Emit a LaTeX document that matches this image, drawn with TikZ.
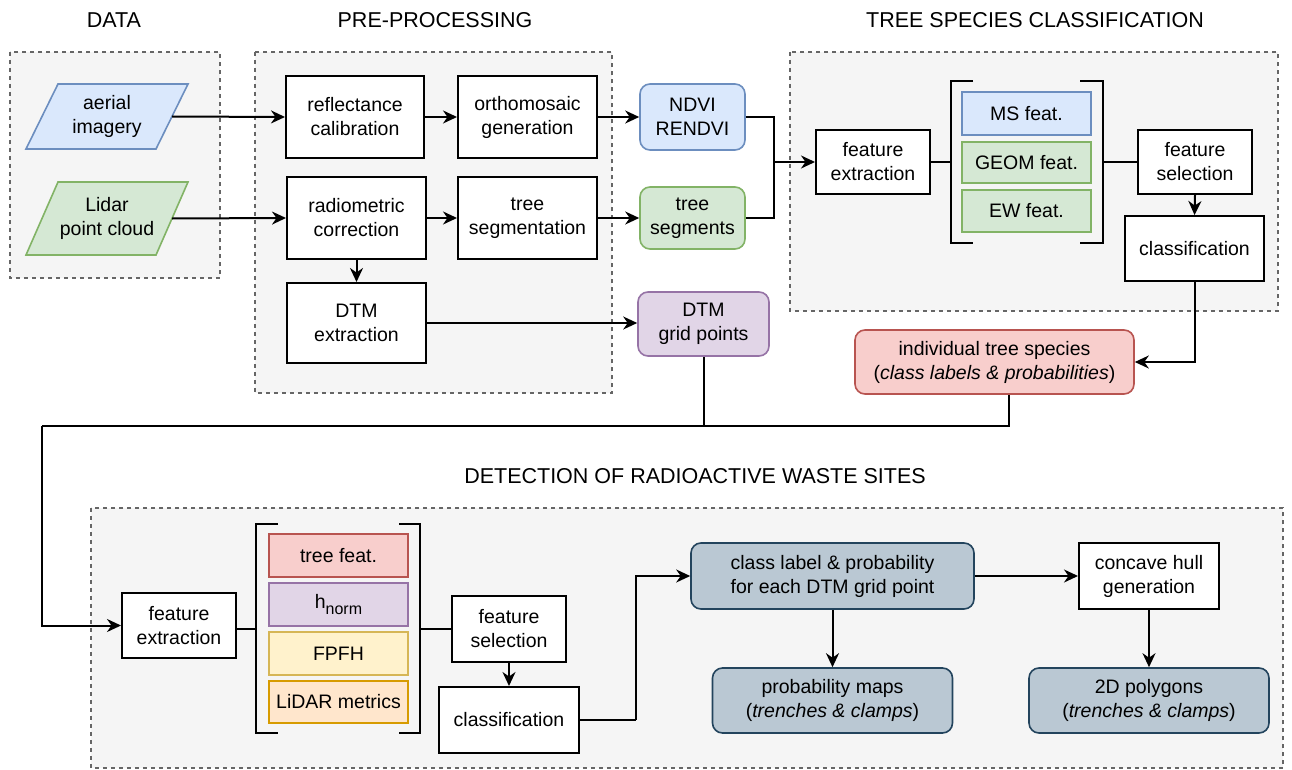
\documentclass[tikz,border=0pt]{standalone}
\usepackage{fontspec}
\setmainfont{Liberation Sans}
\usetikzlibrary{arrows.meta,calc}
\definecolor{grpfill}{HTML}{F5F5F5}
\definecolor{grpline}{HTML}{666666}
\definecolor{bluefill}{HTML}{DAE8FC}
\definecolor{blueline}{HTML}{6C8EBF}
\definecolor{greenfill}{HTML}{D5E8D4}
\definecolor{greenline}{HTML}{82B366}
\definecolor{purplefill}{HTML}{E1D5E7}
\definecolor{purpleline}{HTML}{9673A6}
\definecolor{redfill}{HTML}{F8CECC}
\definecolor{redline}{HTML}{B85450}
\definecolor{yellowfill}{HTML}{FFF2CC}
\definecolor{yellowline}{HTML}{D6B656}
\definecolor{orangefill}{HTML}{FFE6CC}
\definecolor{orangeline}{HTML}{D79B00}
\definecolor{greyfill}{HTML}{BAC8D3}
\definecolor{greyline}{HTML}{23445D}
\newcommand{\bodyfnt}{\fontsize{19.5}{24}\selectfont}
\newcommand{\titlefnt}{\fontsize{21.5}{25}\selectfont}
\newcommand{\subnorm}{\raisebox{-0.28em}{\fontsize{16}{16}\selectfont norm}}
\begin{document}
\begin{tikzpicture}[x=1pt,y=-1pt,
  grp/.style={draw=grpline, fill=grpfill, dash pattern=on 4pt off 4pt, line width=1.4pt},
  sz/.style 2 args={minimum width=#1, minimum height=#2},
  base/.style={align=center, inner sep=0pt, font=\bodyfnt},
  proc/.style={base, draw=black, fill=white, line width=2pt},
  rbox/.style={base, rounded corners=10pt, line width=1.6pt},
  feat/.style={base, line width=1.8pt},
  conn/.style={line width=2pt, draw=black},
  arr/.style={conn, -{Stealth[length=14pt,width=13pt,inset=4.5pt]}},
  ttl/.style={font=\titlefnt, inner sep=0pt},
  brk/.style={line width=2pt, draw=black}
]
\useasboundingbox (0,0) rectangle (1292,770);
\fill[white] (0,0) rectangle (1292,770);

% group boxes
\draw[grp] (10,52) rectangle (220,278);
\draw[grp] (255,52) rectangle (612,393);
\draw[grp] (790,52) rectangle (1278,311);
\draw[grp] (91,508) rectangle (1283,768);

% titles
\node[ttl] (tdata) at (114,20) {DATA};
\node[ttl] (tpre) at (435,20) {PRE-PROCESSING};
\node[ttl] (ttsc) at (1035,20) {TREE SPECIES CLASSIFICATION};
\node[ttl] (tdet) at (695,476) {DETECTION OF RADIOACTIVE WASTE SITES};

% data
\draw[fill=bluefill, draw=blueline, line width=1.6pt] (58,84) -- (188,84) -- (156,149) -- (26,149) -- cycle;
\node[base, sz={130}{60}] (aerial) at (107,116.5) {aerial\\imagery};
\draw[fill=greenfill, draw=greenline, line width=1.6pt] (58,182) -- (188,182) -- (156,255) -- (26,255) -- cycle;
\node[base, sz={130}{60}] (lidar) at (107,218.5) {Lidar\\point cloud};

% pre-processing
\node[proc, sz={138}{82}] (refl) at (355,117) {reflectance\\calibration};
\node[proc, sz={139}{82}] (ortho) at (527.5,117) {orthomosaic\\generation};
\node[proc, sz={139}{82}] (radio) at (356.5,218) {radiometric\\correction};
\node[proc, sz={139}{82}] (seg) at (527.5,218) {tree\\segmentation};
\node[proc, sz={139}{80}] (dtm) at (356.5,323) {DTM\\extraction};

\node[rbox, draw=blueline, fill=bluefill, sz={105}{66}] (ndvi) at (692.5,117) {NDVI\\RENDVI};
\node[rbox, draw=greenline, fill=greenfill, sz={105}{62}] (tseg) at (692.5,218) {tree\\segments};
\node[rbox, draw=purpleline, fill=purplefill, sz={131}{64}] (grid) at (703.5,324) {DTM\\grid points};

% tree species classification
\node[proc, sz={114}{64}] (fe1) at (873,162) {feature\\extraction};
\node[feat, draw=blueline, fill=bluefill, sz={129}{43}] (ms) at (1026.5,113.5) {MS feat.};
\node[feat, draw=greenline, fill=greenfill, sz={129}{41}] (geom) at (1026.5,162.5) {GEOM feat.};
\node[feat, draw=greenline, fill=greenfill, sz={129}{42}] (ew) at (1026.5,211) {EW feat.};
\coordinate (b1l) at (951,162);
\coordinate (b1r) at (1103,162);
\draw[brk] (973,81) -- (951,81) -- (951,243) -- (973,243);
\draw[brk] (1080,81) -- (1103,81) -- (1103,243) -- (1080,243);
\node[proc, sz={114}{64}] (fs1) at (1195,162) {feature\\selection};
\node[proc, sz={139}{65}] (cls1) at (1194.5,248.5) {classification};
\node[rbox, draw=redline, fill=redfill, sz={279}{64}] (its) at (994.5,362) {individual tree species\\(\textit{class labels \& probabilities})};

% detection
\node[proc, sz={114}{65}] (fe2) at (179,625.5) {feature\\extraction};
\coordinate (b2l) at (256,629);
\coordinate (b2r) at (420,629);
\draw[brk] (278,524) -- (256,524) -- (256,733) -- (278,733);
\draw[brk] (399,524) -- (420,524) -- (420,733) -- (399,733);
\node[feat, draw=redline, fill=redfill, sz={139}{43}] (tf) at (338.5,555.5) {tree feat.};
\node[feat, draw=purpleline, fill=purplefill, sz={139}{43}] (hn) at (338.5,604.5) {h\subnorm};
\node[feat, draw=yellowline, fill=yellowfill, sz={139}{43}] (fpfh) at (338.5,653.5) {FPFH};
\node[feat, draw=orangeline, fill=orangefill, sz={139}{42}] (lm) at (338.5,702) {LiDAR metrics};
\node[proc, sz={114}{66}] (fs2) at (509,629) {feature\\selection};
\node[proc, sz={140}{66}] (cls2) at (509,720) {classification};
\node[rbox, draw=greyline, fill=greyfill, sz={283}{66}] (cl) at (832.5,576) {class label \& probability\\for each DTM grid point};
\node[proc, sz={140}{66}] (hull) at (1149,576) {concave hull\\generation};
\node[rbox, draw=greyline, fill=greyfill, sz={240}{65}] (pmap) at (832.5,700.5) {probability maps\\(\textit{trenches \& clamps})};
\node[rbox, draw=greyline, fill=greyfill, sz={240}{65}] (poly) at (1149,700.5) {2D polygons\\(\textit{trenches \& clamps})};

% connectors: pre-processing
\draw[arr] (aerial.east) -- (refl.west);
\draw[arr] (lidar.east) -- (radio.west);
\draw[arr] (refl.east) -- (ortho.west);
\draw[arr] (radio.east) -- (seg.west);
\draw[arr] (radio.south) -- (dtm.north);
\draw[arr] (ortho.east) -- (ndvi.west);
\draw[arr] (seg.east) -- (tseg.west);
\draw[arr] (dtm.east) -- (grid.west |- dtm.east);

% junction to feature extraction
\coordinate (jx) at (774,162);
\draw[conn] (ndvi.east) -| (jx);
\draw[conn] (tseg.east) -| (jx);
\draw[arr] (jx) -- (fe1.west);
\draw[conn] (fe1.east) -- (b1l);
\draw[conn] (b1r) -- (fs1.west);
\draw[arr] (fs1.south) -- (cls1.north);
\draw[arr] (cls1.south) |- (its.east);

% long feedback line
\coordinate (jr) at (1009,426);
\coordinate (jl) at (42,426);
\draw[conn] (grid.south) -- (grid.south |- jr);
\draw[conn] (jr |- its.south) -- (jr) -- (jl);
\draw[arr] (jl) |- (fe2.west);

% detection connectors
\draw[conn] (b2l -| fe2.east) -- (b2l);
\draw[conn] (b2r) -- (b2r -| fs2.west);
\draw[arr] (fs2.south) -- (cls2.north);
\coordinate (jc) at (636,720);
\draw[conn] (cls2.east) -- (jc);
\draw[arr] (jc) |- (cl.west);
\draw[arr] (cl.east) -- (hull.west);
\draw[arr] (cl.south) -- (pmap.north);
\draw[arr] (hull.south) -- (poly.north);
\end{tikzpicture}
\end{document}
